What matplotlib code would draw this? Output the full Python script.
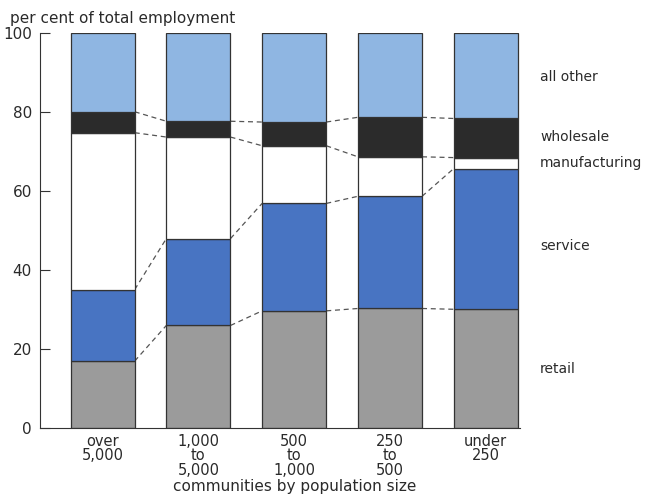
import numpy as np
import matplotlib.pyplot as plt

communities = ['over\n5,000', '1,000\nto\n5,000', '500\nto\n1,000', '250\nto\n500', 'under\n250']
sectors = ['retail', 'service', 'manufacturing', 'wholesale', 'all other']

# per cent of total employment
retail = [17.0, 26.0, 29.7, 30.3, 30.1]
service = [18.1, 22.0, 27.2, 28.4, 35.6]
manufacturing = [39.7, 25.7, 14.6, 10.0, 2.8]
wholesale = [5.3, 4.0, 6.0, 10.0, 9.9]
all_other = [20.0, 22.3, 22.5, 21.3, 21.6]

colors = ['#9b9b9b', '#4874c2', '#ffffff', '#2b2b2b', '#8fb6e2']
text_c = '#2a2a2a'

fig = plt.figure(figsize=(6.47, 4.95), dpi=100)
ax = fig.add_axes([0.062, 0.135, 0.742, 0.798])

x = np.arange(len(communities))
w = 0.67
layers = [retail, service, manufacturing, wholesale, all_other]
bottom = np.zeros(len(x))
tops = []
for vals, c in zip(layers, colors):
    vals = np.array(vals)
    ax.bar(x, vals, w, bottom=bottom, color=c, edgecolor='#333333', linewidth=0.9, zorder=2)
    bottom = bottom + vals
    tops.append(bottom.copy())

# dashed connectors between neighbouring bars
for t in tops[:-1]:
    for i in range(len(x) - 1):
        ax.plot([x[i] + w / 2, x[i + 1] - w / 2], [t[i], t[i + 1]],
                ls=(0, (4, 3)), color='#555555', lw=0.9, zorder=1)

ax.set_xlim(-0.653, 4.36)
ax.set_ylim(0, 100)
ax.spines['top'].set_visible(False)
ax.spines['right'].set_visible(False)
ax.spines['left'].set_color('#333333')
ax.spines['bottom'].set_color('#333333')
ax.set_yticks([0, 20, 40, 60, 80, 100])
ax.set_yticklabels(['0', '20', '40', '60', '80', '100'], fontsize=11, color=text_c)
ax.tick_params(axis='y', direction='in', length=7, color='#333333', pad=6)
ax.set_xticks(x)
ax.set_xticklabels(communities, fontsize=10.5, color=text_c, linespacing=0.95)
ax.tick_params(axis='x', length=0, pad=4)

fig.text(0.015, 0.962, 'per cent of total employment', fontsize=11, color=text_c, va='center')
fig.text(0.455, 0.003, 'communities by population size', fontsize=11, color=text_c, ha='center', va='bottom')

label_y = [369, 246, 163, 137, 77]
for name, py in zip(sectors, label_y):
    fig.text(540 / 647, 1 - py / 495, name, fontsize=10, color=text_c, va='center')

fig.savefig('out.png', dpi=100)
